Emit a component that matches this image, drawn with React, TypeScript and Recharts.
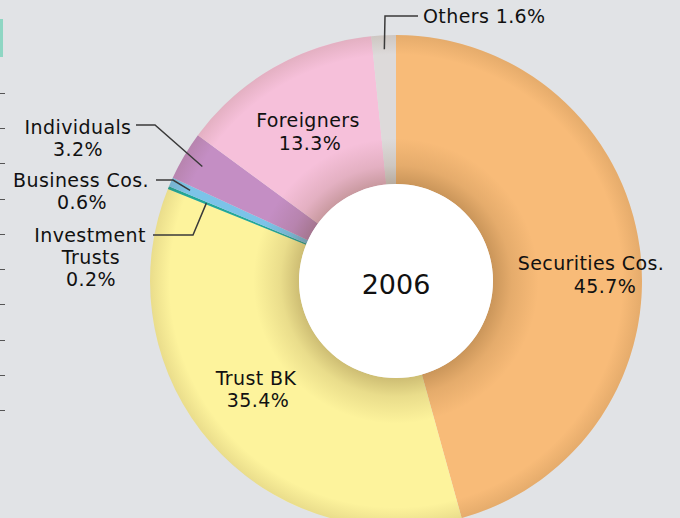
import React from 'react';
import { PieChart, Pie, Cell } from 'recharts';

const names = ['Securities Cos.', 'Trust BK', 'Investment Trusts', 'Business Cos.', 'Individuals', 'Foreigners', 'Others'];
const shares = [45.7, 35.4, 0.2, 0.6, 3.2, 13.3, 1.6];
const colors = ['#f8bb78', '#fdf39c', '#22a898', '#7cc3e8', '#c48ec4', '#f6c0da', '#dddada'];
const year = '2006';

const data = names.map((name, i) => ({ name, value: shares[i] }));

// label placement, offsets from the pie centre
const layout: Record<string, any> = {
  'Securities Cos.': { lines: [[195, -18], [209, 5]] },
  'Trust BK': { lines: [[-140, 97], [-138, 119]] },
  'Foreigners': { lines: [[-88, -161], [-86, -138]] },
  'Individuals': { lines: [[-318, -154], [-318, -132]], leader: [[-260, -156], [-241, -156]], r: 225 },
  'Business Cos.': { lines: [[-315, -101], [-314, -79]], leader: [[-240, -101], [-223, -101]], r: 225 },
  'Investment Trusts': { wrap: true, lines: [[-306, -46], [-305, -24], [-305, -2]], leader: [[-243, -46], [-203, -46]], r: 205 },
  'Others': { single: true, anchor: 'start', lines: [[27, -265]], leader: [[22, -265], [-11, -265]], r: 232 },
};

const RAD = Math.PI / 180;
const font = { fontSize: 19, fontFamily: 'DejaVu Sans', letterSpacing: 0.4 };

const renderLabel = (props: any) => {
  const { cx, cy, midAngle, name, value, index } = props;
  const cfg = layout[name];
  if (!cfg) return null;
  let texts: string[];
  if (cfg.single) texts = [`${name} ${value}%`];
  else texts = [...(cfg.wrap ? name.split(' ') : [name]), `${value}%`];
  let path = null;
  if (cfg.leader) {
    const px = cx + cfg.r * Math.cos(-midAngle * RAD);
    const py = cy + cfg.r * Math.sin(-midAngle * RAD);
    const pts = cfg.leader.map(([dx, dy]: number[]) => `${cx + dx},${cy + dy}`);
    path = <polyline points={`${pts.join(' ')} ${px},${py}`} fill="none" stroke="#3a3a3a" strokeWidth={1.5} />;
  }
  return (
    <g key={`lbl-${index}`}>
      {path}
      {texts.map((t, i) => (
        <text
          key={i}
          x={cx + cfg.lines[i][0]}
          y={cy + cfg.lines[i][1]}
          textAnchor={cfg.anchor || 'middle'}
          dominantBaseline="central"
          fill="#111"
          {...font}
        >
          {t}
        </text>
      ))}
    </g>
  );
};

const renderYear = (props: any) => (
  <text
    x={props.cx}
    y={props.cy + 3}
    textAnchor="middle"
    dominantBaseline="central"
    fill="#111"
    fontSize={27}
    fontFamily="DejaVu Sans"
  >
    {year}
  </text>
);

export default function App() {
  return (
    <div style={{ position: 'absolute', left: 0, top: 0, width: 680, height: 518, overflow: 'hidden', background: '#e1e3e6' }}>
      <div style={{ position: 'absolute', left: 0, top: 19, width: 3, height: 38, background: '#8ed6c3' }} />
      {[93, 128, 163, 199, 234, 269, 304, 340, 375, 410].map((y) => (
        <div key={y} style={{ position: 'absolute', left: 0, top: y, width: 5, height: 1, background: '#555' }} />
      ))}
      <PieChart
        width={680}
        height={560}
        margin={{ top: 0, right: 0, bottom: 0, left: 0 }}
        style={{ position: 'absolute', left: 0, top: 0 }}
      >
        <defs>
          <radialGradient id="shade" cx="50%" cy="50%" r="50%">
            <stop offset="0.39" stopColor="#5a3a10" stopOpacity={0.3} />
            <stop offset="0.47" stopColor="#5a3a10" stopOpacity={0.12} />
            <stop offset="0.58" stopColor="#5a3a10" stopOpacity={0} />
            <stop offset="0.92" stopColor="#5a3a10" stopOpacity={0} />
            <stop offset="1" stopColor="#5a3a10" stopOpacity={0.12} />
          </radialGradient>
        </defs>
        <Pie
          data={data}
          dataKey="value"
          cx={396}
          cy={281}
          innerRadius={97}
          outerRadius={246}
          startAngle={90}
          endAngle={-270}
          stroke="none"
          isAnimationActive={false}
        >
          {data.map((entry, index) => (
            <Cell key={`cell-${index}`} fill={colors[index]} />
          ))}
        </Pie>
        <Pie
          data={[{ name: 'shade', value: 1 }]}
          dataKey="value"
          cx={396}
          cy={281}
          innerRadius={97}
          outerRadius={246}
          startAngle={90}
          endAngle={-270}
          stroke="none"
          fill="url(#shade)"
          isAnimationActive={false}
        />
        <Pie
          data={[{ name: 'hole', value: 1 }]}
          dataKey="value"
          cx={396}
          cy={281}
          innerRadius={0}
          outerRadius={97}
          stroke="none"
          fill="#ffffff"
          label={renderYear}
          labelLine={false}
          isAnimationActive={false}
        />
        <Pie
          data={data}
          dataKey="value"
          cx={396}
          cy={281}
          innerRadius={97}
          outerRadius={246}
          startAngle={90}
          endAngle={-270}
          stroke="none"
          fill="transparent"
          label={renderLabel}
          labelLine={false}
          isAnimationActive={false}
        />
      </PieChart>
    </div>
  );
}
